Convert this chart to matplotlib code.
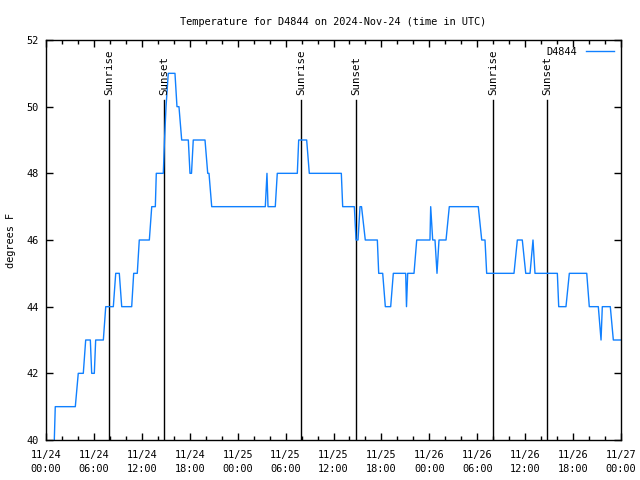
import matplotlib
matplotlib.use("Agg")
import matplotlib.pyplot as plt
from matplotlib.ticker import MultipleLocator

# hours since 2024-11-24 00:00 UTC
hours = [1.04, 1.16, 3.67, 4.04, 4.67, 4.97, 5.55, 5.72, 6.05, 6.22, 7.18, 7.48,
         8.43, 8.73, 9.18, 9.48, 10.73, 10.98, 11.43, 11.68, 12.94, 13.24, 13.69,
         13.81, 14.69, 14.84, 15.03, 15.31, 16.15, 16.40, 16.65, 16.99, 17.82,
         18.03, 18.22, 18.44, 19.91, 20.25, 20.41, 20.75, 27.46, 27.67, 27.80,
         28.71, 28.96, 31.47, 31.64, 32.64, 32.97, 36.98, 37.15, 38.61, 38.82,
         39.07, 39.32, 39.51, 39.98, 41.49, 41.66, 42.16, 42.49, 43.16, 43.49,
         45.04, 45.14, 45.29, 46.08, 46.42, 48.08, 48.17, 48.42, 48.71, 48.96,
         49.21, 50.09, 50.50, 54.13, 54.56, 54.97, 55.18, 58.60, 59.02, 59.64,
         60.07, 60.61, 60.98, 61.23, 64.03, 64.20, 65.11, 65.53, 67.71, 68.03,
         69.16, 69.50, 69.66, 70.66, 71.04, 72.0]
temps = [40, 41, 41, 42, 42, 43, 43, 42, 42, 43, 43, 44,
         44, 45, 45, 44, 44, 45, 45, 46, 46, 47, 47,
         48, 48, 49, 50, 51, 51, 50, 50, 49, 49,
         48, 48, 49, 49, 48, 48, 47, 47, 48, 47,
         47, 48, 48, 49, 49, 48, 48, 47, 47, 46,
         46, 47, 47, 46, 46, 45, 45, 44, 44, 45,
         45, 44, 45, 45, 46, 46, 47, 46, 46, 45,
         46, 46, 47, 47, 46, 46, 45, 45, 46, 46,
         45, 45, 46, 45, 45, 44, 44, 45, 45, 44,
         44, 43, 44, 44, 43, 43]

sun_hours = [7.93, 14.81, 31.93, 38.82, 55.97, 62.74]
sun_labels = ["Sunrise", "Sunset", "Sunrise", "Sunset", "Sunrise", "Sunset"]
sun_top = 50.2

tick_hours = list(range(0, 73, 6))
tick_labels = ["11/24\n00:00", "11/24\n06:00", "11/24\n12:00", "11/24\n18:00",
               "11/25\n00:00", "11/25\n06:00", "11/25\n12:00", "11/25\n18:00",
               "11/26\n00:00", "11/26\n06:00", "11/26\n12:00", "11/26\n18:00",
               "11/27\n00:00"]

FONT = "DejaVu Sans Mono"
FS = 7.4

fig = plt.figure(figsize=(6.4, 4.8), dpi=100)
ax = fig.add_axes([46/640, 40/480, 575/640, 400/480])

for h, lab in zip(sun_hours, sun_labels):
    ax.plot([h, h], [40, sun_top], color="black", lw=1.0)
    ax.text(h, sun_top + 0.15, lab, rotation=90, ha="center", va="bottom",
            fontsize=FS + 0.4, family=FONT)

ax.plot(hours, temps, color="#1080ff", lw=1.0, label="D4844")

ax.set_xlim(0, 72)
ax.set_ylim(40, 52)
ax.set_xticks(tick_hours)
ax.set_xticklabels(tick_labels, fontsize=FS, family=FONT, linespacing=1.55)
ax.xaxis.set_minor_locator(MultipleLocator(2))
ax.set_yticks(range(40, 53, 2))
ax.set_yticklabels([str(v) for v in range(40, 53, 2)], fontsize=FS, family=FONT)
ax.tick_params(which="both", direction="in", top=True, right=True, width=1.0)
ax.tick_params(axis="x", which="major", length=5, pad=7)
ax.tick_params(axis="y", which="major", length=5, pad=5)
ax.tick_params(which="minor", length=3)
for s in ax.spines.values():
    s.set_linewidth(1.0)

ax.set_ylabel("degrees F", fontsize=FS, family=FONT)
ax.yaxis.set_label_coords(-0.053, 0.5)
ax.set_title("Temperature for D4844 on 2024-Nov-24 (time in UTC)",
             fontsize=FS, family=FONT, pad=11)

leg = ax.legend(loc="upper right", frameon=False, prop={"family": FONT, "size": FS},
                handlelength=2.8, handletextpad=0.8, borderaxespad=0.25,
                markerfirst=False)

fig.savefig("out.png", dpi=100)
